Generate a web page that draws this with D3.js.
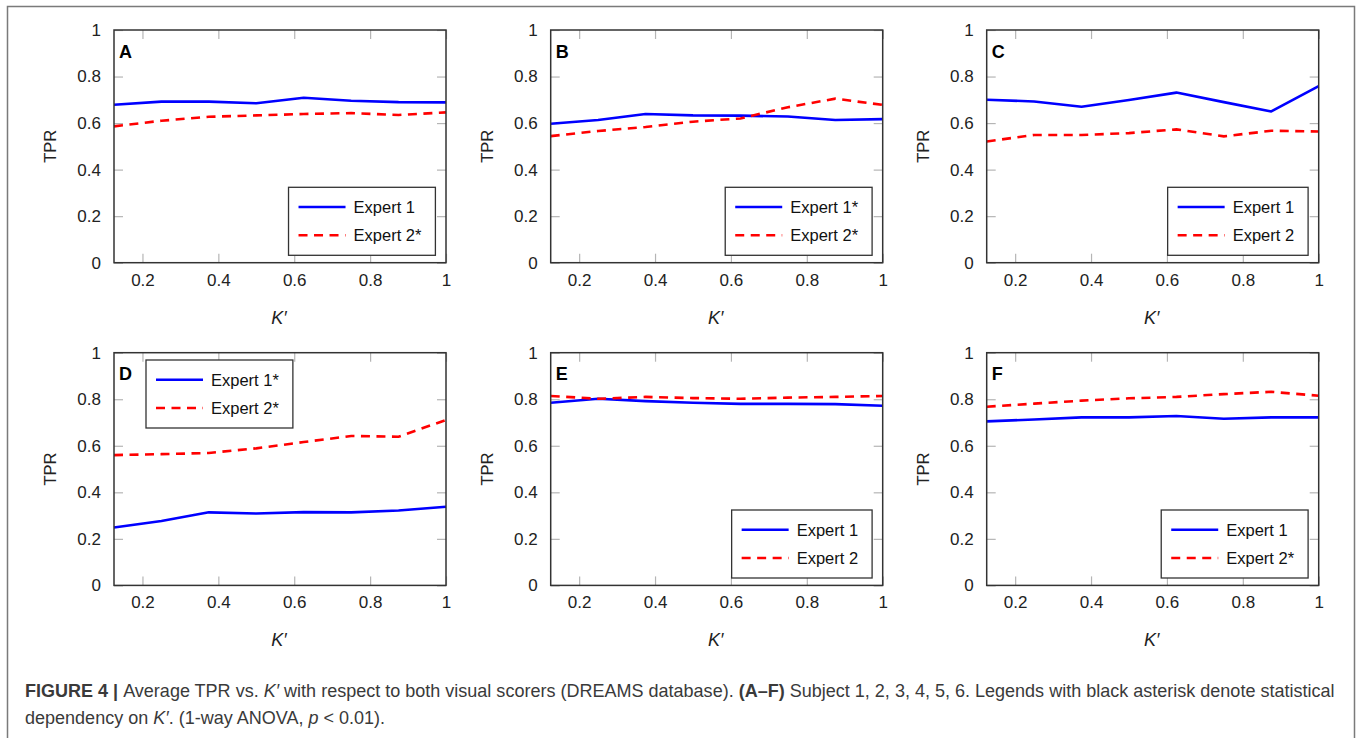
<!DOCTYPE html>
<html>
<head>
<meta charset="utf-8">
<script src="https://cdn.jsdelivr.net/npm/d3@7"></script>
<style>
  body { margin: 0; background: #fff; }
  svg { display: block; font-family: "Liberation Sans", Arial, sans-serif; }
</style>
</head>
<body>
<svg id="fig" width="1357" height="738"></svg>
<script>
// K' values on the x axis (1/8 ... 8/8)
const kPrime = [0.125, 0.25, 0.375, 0.5, 0.625, 0.75, 0.875, 1];
const xTicks = [0.2, 0.4, 0.6, 0.8, 1];
const yTicks = [0, 0.2, 0.4, 0.6, 0.8, 1];

// average TPR, one pair of series per subject
const expert1A = [0.679, 0.692, 0.692, 0.685, 0.709, 0.696, 0.690, 0.689];
const expert2A = [0.586, 0.610, 0.627, 0.633, 0.639, 0.643, 0.635, 0.646];
const expert1B = [0.597, 0.613, 0.639, 0.633, 0.632, 0.628, 0.613, 0.617];
const expert2B = [0.544, 0.566, 0.583, 0.606, 0.620, 0.668, 0.705, 0.678];
const expert1C = [0.700, 0.693, 0.670, 0.699, 0.731, 0.690, 0.650, 0.759];
const expert2C = [0.521, 0.549, 0.549, 0.557, 0.573, 0.543, 0.567, 0.564];
const expert1D = [0.249, 0.277, 0.314, 0.309, 0.315, 0.314, 0.322, 0.338];
const expert2D = [0.560, 0.564, 0.569, 0.589, 0.616, 0.642, 0.639, 0.711];
const expert1E = [0.785, 0.802, 0.792, 0.785, 0.780, 0.780, 0.779, 0.772];
const expert2E = [0.814, 0.802, 0.810, 0.805, 0.802, 0.807, 0.810, 0.814];
const expert1F = [0.705, 0.713, 0.722, 0.722, 0.728, 0.716, 0.722, 0.722];
const expert2F = [0.768, 0.781, 0.794, 0.804, 0.810, 0.822, 0.832, 0.815];

const panelLetters = ["A", "B", "C", "D", "E", "F"];
const legendExpert1 = ["Expert 1", "Expert 1*", "Expert 1", "Expert 1*", "Expert 1", "Expert 1"];
const legendExpert2 = ["Expert 2*", "Expert 2*", "Expert 2", "Expert 2*", "Expert 2", "Expert 2*"];

const panels = [
  { e1: expert1A, e2: expert2A },
  { e1: expert1B, e2: expert2B },
  { e1: expert1C, e2: expert2C },
  { e1: expert1D, e2: expert2D, legendTopLeft: true },
  { e1: expert1E, e2: expert2E },
  { e1: expert1F, e2: expert2F }
];

const svg = d3.select("#fig");

// outer frame (open at the bottom)
svg.append("path")
  .attr("d", "M7.5,738 V6.5 H1354.5 V738")
  .attr("fill", "none")
  .attr("stroke", "#7a7a7a")
  .attr("stroke-width", 1.5);

const plotW = 332, plotH = 232.7;
const lefts = [114, 550.7, 986.7];
const tops = [30, 352.7];
const tickLen = 9;
const fmt = d3.format("~g");

panels.forEach((p, i) => {
  const col = i % 3, row = Math.floor(i / 3);
  const g = svg.append("g")
    .attr("transform", `translate(${lefts[col]},${tops[row]})`);

  const x = d3.scaleLinear().domain([0.125, 1]).range([0, plotW]);
  const y = d3.scaleLinear().domain([0, 1]).range([plotH, 0]);

  // axes with inward ticks, mirrored on top/right
  const styleAxis = sel => {
    sel.attr("font-family", null).attr("font-size", null);
    sel.select(".domain").remove();
    sel.selectAll(".tick line").attr("stroke", "#b5b5b5").attr("stroke-width", 1.2);
    sel.selectAll(".tick text").attr("fill", "#222").style("font-size", "17px");
  };
  g.append("g").attr("transform", `translate(0,${plotH})`)
    .call(d3.axisBottom(x).tickValues(xTicks).tickSize(-tickLen).tickPadding(11).tickFormat(fmt))
    .call(styleAxis);
  g.append("g")
    .call(d3.axisTop(x).tickValues(xTicks).tickSize(-tickLen).tickFormat(""))
    .call(styleAxis);
  g.append("g")
    .call(d3.axisLeft(y).tickValues(yTicks).tickSize(-tickLen).tickPadding(13).tickFormat(fmt))
    .call(styleAxis);
  g.append("g").attr("transform", `translate(${plotW},0)`)
    .call(d3.axisRight(y).tickValues(yTicks).tickSize(-tickLen).tickFormat(""))
    .call(styleAxis);

  const line = d3.line().x((d, j) => x(kPrime[j])).y(d => y(d));

  g.append("path").datum(p.e1)
    .attr("d", line)
    .attr("fill", "none")
    .attr("stroke", "#0000ff")
    .attr("stroke-width", 2.6)
    .attr("stroke-linejoin", "round");
  g.append("path").datum(p.e2)
    .attr("d", line)
    .attr("fill", "none")
    .attr("stroke", "#ff0000")
    .attr("stroke-width", 2.6)
    .attr("stroke-dasharray", "9,6.5");

  // plot border
  g.append("rect")
    .attr("width", plotW).attr("height", plotH)
    .attr("fill", "none")
    .attr("stroke", "#333")
    .attr("stroke-width", 1.5);

  // panel letter
  g.append("text")
    .attr("x", 5).attr("y", 27.5)
    .attr("font-weight", "bold")
    .attr("font-size", 18)
    .attr("fill", "#000")
    .text(panelLetters[i]);

  // axis titles
  g.append("text")
    .attr("transform", `translate(${-58},${plotH / 2}) rotate(-90)`)
    .attr("text-anchor", "middle")
    .attr("font-size", 16.5)
    .attr("fill", "#222")
    .text("TPR");
  const kl = g.append("text")
    .attr("x", plotW / 2 - 1).attr("y", plotH + 61)
    .attr("text-anchor", "middle")
    .attr("font-size", 18)
    .attr("fill", "#222");
  kl.append("tspan").attr("font-style", "italic").text("K");
  kl.append("tspan").attr("font-style", "italic").text("\u2032");

  // legend
  const lg = g.append("g");
  const box = lg.append("rect").attr("fill", "#fff").attr("stroke", "#333").attr("stroke-width", 1.3);
  const labels = [legendExpert1[i], legendExpert2[i]];
  const rowsY = [19.7, 48];
  let maxW = 0;
  labels.forEach((lab, r) => {
    lg.append("line")
      .attr("x1", 10).attr("x2", 57)
      .attr("y1", rowsY[r]).attr("y2", rowsY[r])
      .attr("stroke", r === 0 ? "#0000ff" : "#ff0000")
      .attr("stroke-width", 2.6)
      .attr("stroke-dasharray", r === 0 ? null : "9,6.5");
    const t = lg.append("text")
      .attr("x", 65).attr("y", rowsY[r] + 5.8)
      .attr("font-size", 16.5)
      .attr("fill", "#111")
      .text(lab);
    maxW = Math.max(maxW, t.node().getComputedTextLength());
  });
  const lw = 65 + maxW + 14, lh = 68;
  box.attr("width", lw).attr("height", lh);
  if (p.legendTopLeft) {
    lg.attr("transform", `translate(32,7.3)`);
  } else {
    lg.attr("transform", `translate(${plotW - 10.6 - lw},${plotH - 7.4 - lh})`);
  }
});

// caption
const cap = svg.append("g").attr("fill", "#3a3a3a");
const line1 = cap.append("text").attr("x", 25).attr("y", 697).attr("font-size", 15.5);
line1.append("tspan").attr("font-weight", "bold").text("FIGURE 4 | ");
line1.append("tspan").text("Average TPR vs. ");
line1.append("tspan").attr("font-style", "italic").text("K\u2032");
line1.append("tspan").text(" with respect to both visual scorers (DREAMS database). ");
line1.append("tspan").attr("font-weight", "bold").text("(A\u2013F)");
line1.append("tspan").text(" Subject 1, 2, 3, 4, 5, 6. Legends with black asterisk denote statistical");
const w1 = line1.node().getComputedTextLength();
const capSize = 15.5 * 1311 / w1;
line1.attr("font-size", capSize);

const line2 = cap.append("text").attr("x", 25).attr("y", 724).attr("font-size", capSize);
line2.append("tspan").text("dependency on ");
line2.append("tspan").attr("font-style", "italic").text("K\u2032");
line2.append("tspan").text(". (1-way ANOVA, ");
line2.append("tspan").attr("font-style", "italic").text("p");
line2.append("tspan").text(" < 0.01).");
</script>
</body>
</html>
